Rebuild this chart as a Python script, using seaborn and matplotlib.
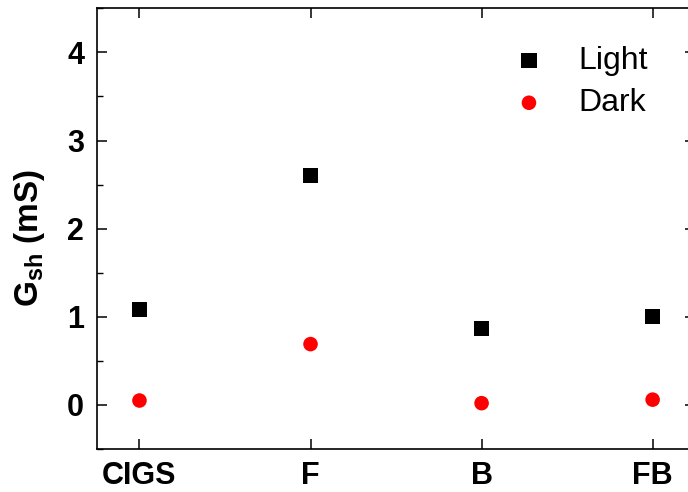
import matplotlib
matplotlib.use("Agg")
import matplotlib.pyplot as plt
import seaborn as sns
import pandas as pd
from matplotlib.ticker import MultipleLocator

samples = ["CIGS", "F", "B", "FB"]
light = [1.08, 2.60, 0.87, 1.00]
dark = [0.05, 0.69, 0.02, 0.06]

df_light = pd.DataFrame({"sample": samples, "G": light})
df_dark = pd.DataFrame({"sample": samples, "G": dark})

sns.set_theme(style="ticks")
plt.rcParams["font.family"] = ["Liberation Sans", "DejaVu Sans"]
plt.rcParams["mathtext.fontset"] = "custom"
plt.rcParams["mathtext.rm"] = "Liberation Sans"
plt.rcParams["mathtext.bf"] = "Liberation Sans:bold"
plt.rcParams["text.color"] = "black"
plt.rcParams["axes.labelcolor"] = "black"
plt.rcParams["xtick.color"] = "black"
plt.rcParams["ytick.color"] = "black"

fig = plt.figure(figsize=(6.88, 4.92), dpi=100)
ax = fig.add_axes([96.7 / 688, 43 / 492, 598.7 / 688, 440.7 / 492])

sns.scatterplot(data=df_light, x="sample", y="G", marker="s", s=121,
                color="#000000", edgecolor="none", linewidth=0, label="Light", ax=ax, zorder=3)
sns.scatterplot(data=df_dark, x="sample", y="G", marker="o", s=110,
                color="#ff0000", edgecolor="none", linewidth=0, label="Dark", ax=ax, zorder=3)

ax.set_xlim(-0.25, 3.25)
ax.set_ylim(-0.5, 4.5)
ax.yaxis.set_major_locator(MultipleLocator(1))
ax.yaxis.set_minor_locator(MultipleLocator(0.5))

for s in ax.spines.values():
    s.set_visible(True)
    s.set_linewidth(1.2)
    s.set_color("black")

ax.tick_params(axis="both", which="both", direction="in", top=True, right=True,
               colors="black")
ax.tick_params(axis="both", which="major", length=7, width=1.1, pad=9,
               labelsize=22)
ax.tick_params(axis="y", which="minor", length=4, width=1.0)
ax.tick_params(axis="x", which="minor", bottom=False, top=False)
for lab in ax.get_xticklabels() + ax.get_yticklabels():
    lab.set_fontweight("bold")

ax.set_xlabel("")
ax.set_ylabel(r"G$_{\mathbf{sh}}$ (mS)", fontsize=24, fontweight="bold", color="black")
ax.yaxis.set_label_coords(-0.083, 0.48)

leg = ax.legend(loc="upper left", bbox_to_anchor=(505 / 688, 1 - 46 / 492),
                bbox_transform=fig.transFigure, frameon=False, fontsize=23,
                handlelength=1.5, handletextpad=0.8, labelspacing=0.38,
                borderpad=0, borderaxespad=0, markerscale=1.0, labelcolor="black")

fig.savefig("out.png", dpi=100)
